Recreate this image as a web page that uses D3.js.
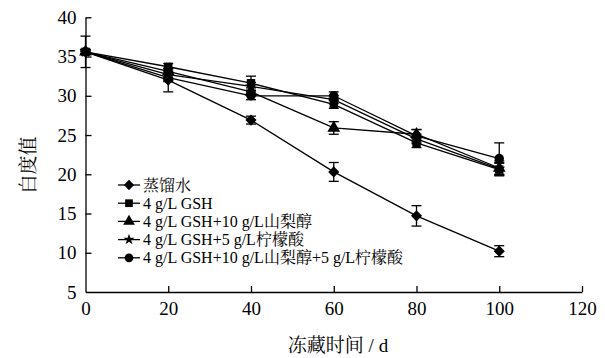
<!DOCTYPE html>
<html>
<head>
<meta charset="utf-8">
<script src="https://cdn.jsdelivr.net/npm/d3@7"></script>
<style>
  body { margin: 0; background: #fff; }
  text { font-family: "Liberation Serif", "Noto Serif CJK SC", "Noto Sans CJK SC", serif; fill: #000; }
</style>
</head>
<body>
<svg width="605" height="358"></svg>
<script>
const svg = d3.select('svg');

// data
const days = [0, 20, 40, 60, 80, 100];
const seriesNames = [
  '蒸馏水',
  '4 g/L GSH',
  '4 g/L GSH+10 g/L山梨醇',
  '4 g/L GSH+5 g/L柠檬酸',
  '4 g/L GSH+10 g/L山梨醇+5 g/L柠檬酸',
];
const water = [35.6, 32.0, 26.9, 20.3, 14.7, 10.2];
const gsh = [35.6, 33.7, 31.6, 28.9, 24.0, 20.6];
const gshSorbitol = [35.6, 33.1, 30.5, 25.9, 25.1, 20.8];
const gshCitric = [35.6, 32.7, 31.2, 29.5, 24.5, 20.7];
const gshBoth = [35.6, 32.3, 30.0, 30.0, 24.9, 22.0];
const waterErr = [0.3, 1.5, 0.5, 1.2, 1.3, 0.7];
const gshErr = [2.0, 0.4, 0.9, 0.5, 0.6, 0.8];
const gshSorbitolErr = [0.3, 0.4, 0.5, 0.8, 0.6, 0.9];
const gshCitricErr = [0.3, 0.4, 0.5, 0.5, 0.6, 0.8];
const gshBothErr = [0.3, 0.5, 0.5, 0.5, 0.8, 2.0];
const xTicks = [0, 20, 40, 60, 80, 100, 120];
const yTicks = [5, 10, 15, 20, 25, 30, 35, 40];

// diamond = square turned 45 degrees
const series = [
  { name: seriesNames[0], values: water, err: waterErr, symbol: d3.symbolSquare, size: 62, rot: 45 },
  { name: seriesNames[1], values: gsh, err: gshErr, symbol: d3.symbolSquare, size: 70, rot: 0 },
  { name: seriesNames[2], values: gshSorbitol, err: gshSorbitolErr, symbol: d3.symbolTriangle, size: 70, rot: 0 },
  { name: seriesNames[3], values: gshCitric, err: gshCitricErr, symbol: d3.symbolStar, size: 45, rot: 0 },
  { name: seriesNames[4], values: gshBoth, err: gshBothErr, symbol: d3.symbolCircle, size: 70, rot: 0 },
];

const x = d3.scaleLinear().domain([0, 120]).range([85.5, 582]);
const y = d3.scaleLinear().domain([5, 40]).range([292, 17.3]);

// axes
const xAxis = svg.append('g')
  .attr('transform', `translate(0, ${y(5)})`)
  .call(d3.axisBottom(x).tickValues(xTicks).tickSizeInner(-6).tickSizeOuter(0).tickPadding(10));
const yAxis = svg.append('g')
  .attr('transform', `translate(${x(0)}, 0)`)
  .call(d3.axisLeft(y).tickValues(yTicks).tickSizeInner(-6).tickSizeOuter(0).tickPadding(9));

[xAxis, yAxis].forEach((a) => {
  a.select('.domain').attr('stroke', '#000').attr('stroke-width', 1.3);
  a.selectAll('.tick line').attr('stroke', '#000').attr('stroke-width', 1.3);
  a.selectAll('.tick text').attr('font-size', 19).attr('font-family', null).attr('fill', '#000');
});
yAxis.selectAll('.tick').filter((d) => d === 5).select('line').remove();
xAxis.selectAll('.tick').filter((d) => d === 0).select('line').remove();

// lines, error bars and markers
const line = d3.line().x((d, i) => x(days[i])).y((d) => y(d));

series.forEach((s) => {
  const g = svg.append('g');
  g.append('path')
    .attr('d', line(s.values))
    .attr('fill', 'none')
    .attr('stroke', '#000')
    .attr('stroke-width', 1.3);

  const eb = g.selectAll('.eb').data(s.values).enter().append('g');
  eb.append('line')
    .attr('x1', (d, i) => x(days[i])).attr('x2', (d, i) => x(days[i]))
    .attr('y1', (d, i) => y(d + s.err[i])).attr('y2', (d, i) => y(d - s.err[i]));
  eb.append('line')
    .attr('x1', (d, i) => x(days[i]) - 5).attr('x2', (d, i) => x(days[i]) + 5)
    .attr('y1', (d, i) => y(d + s.err[i])).attr('y2', (d, i) => y(d + s.err[i]));
  eb.append('line')
    .attr('x1', (d, i) => x(days[i]) - 5).attr('x2', (d, i) => x(days[i]) + 5)
    .attr('y1', (d, i) => y(d - s.err[i])).attr('y2', (d, i) => y(d - s.err[i]));
  eb.selectAll('line').attr('stroke', '#000').attr('stroke-width', 1.3);

  g.selectAll('.pt').data(s.values).enter().append('path')
    .attr('d', d3.symbol(s.symbol, s.size))
    .attr('transform', (d, i) => `translate(${x(days[i])}, ${y(d)}) rotate(${s.rot})`)
    .attr('fill', '#000');
});

// legend
const legend = svg.append('g').attr('transform', 'translate(118, 185)');
series.forEach((s, i) => {
  const row = legend.append('g').attr('transform', `translate(0, ${i * 18.2})`);
  row.append('line').attr('x1', 0).attr('x2', 22).attr('stroke', '#000').attr('stroke-width', 1.3);
  row.append('path')
    .attr('d', d3.symbol(s.symbol, s.size * 0.85))
    .attr('transform', `translate(11, 0) rotate(${s.rot})`);
  row.append('text').attr('x', 25).attr('dy', '0.35em').attr('font-size', 16).text(s.name);
});

// axis titles
svg.append('text')
  .attr('x', 338).attr('y', 352)
  .attr('text-anchor', 'middle')
  .attr('font-size', 19)
  .text('冻藏时间 / d');
svg.append('text')
  .attr('transform', 'translate(35, 165) rotate(-90)')
  .attr('text-anchor', 'middle')
  .attr('font-size', 19)
  .text('白度值');
</script>
</body>
</html>
